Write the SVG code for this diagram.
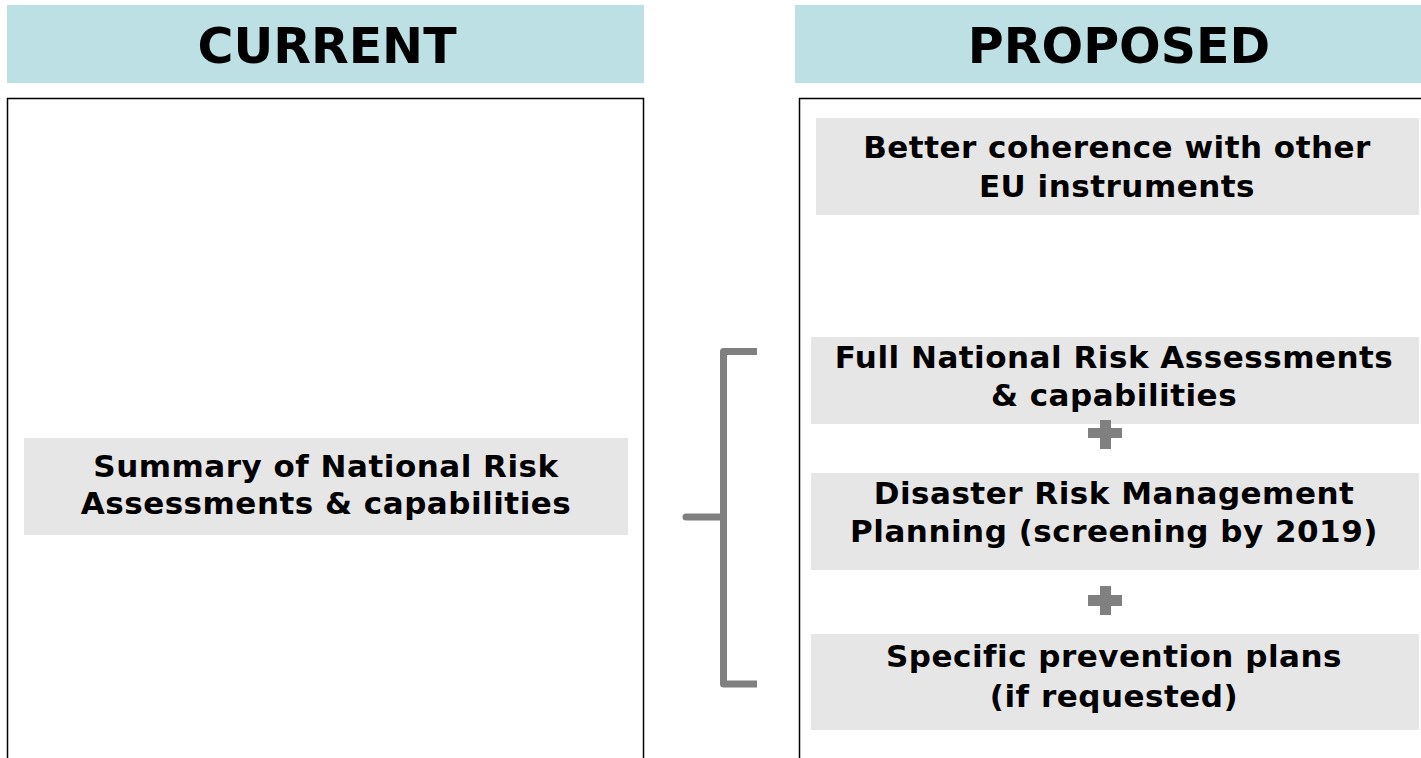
<svg xmlns="http://www.w3.org/2000/svg" width="1421" height="758" viewBox="0 0 1421 758">
<style>
.hdr{fill:#bce0e3}
.frame{fill:#fff;stroke:#000;stroke-width:1.5}
.box{fill:#e6e6e6}
.t{font-family:"DejaVu Sans",Verdana,sans-serif;font-weight:bold;font-size:31px;letter-spacing:0.5px;text-anchor:middle;fill:#000}
.h{font-family:"DejaVu Sans",Verdana,sans-serif;font-weight:bold;font-size:49px;text-anchor:middle;fill:#000}
.br{fill:none;stroke:#808080;stroke-width:7;stroke-linejoin:round}
.plus{fill:#808080}
</style>
<rect width="1421" height="758" fill="#fff"/>
<g id="current-header"><rect class="hdr" x="7" y="5" width="637" height="78"/><text class="h" x="327" y="63">CURRENT</text></g>
<g id="current-frame"><rect class="frame" x="7.5" y="98.5" width="636" height="670"/></g>
<g id="proposed-header"><rect class="hdr" x="795" y="5" width="626" height="78"/><text class="h" x="1119" y="63">PROPOSED</text></g>
<g id="proposed-frame"><rect class="frame" x="799.5" y="98.5" width="630" height="670"/></g>
<g id="summary"><rect class="box" x="24" y="438" width="604" height="97"/><text class="t" x="326" y="477">Summary of National Risk</text><text class="t" x="326" y="514">Assessments &amp; capabilities</text></g>
<g id="coherence"><rect class="box" x="816" y="118" width="603" height="97"/><text class="t" x="1117" y="158">Better coherence with other</text><text class="t" x="1117" y="197">EU instruments</text></g>
<g id="full-nra"><rect class="box" x="811" y="337" width="608" height="87"/><text class="t" x="1114" y="368">Full National Risk Assessments</text><text class="t" x="1114" y="406">&amp; capabilities</text></g>
<g id="drm"><rect class="box" x="811" y="473" width="608" height="97"/><text class="t" x="1114" y="504">Disaster Risk Management</text><text class="t" x="1114" y="542">Planning (screening by 2019)</text></g>
<g id="specific"><rect class="box" x="811" y="634" width="608" height="96"/><text class="t" x="1114" y="667">Specific prevention plans</text><text class="t" x="1114" y="707">(if requested)</text></g>
<g id="connectors">
<path class="br" d="M757,351.5 H723.5 V684 H757"/>
<path class="br" d="M686,517 H723.5" stroke-linecap="round"/>
<g class="plus"><rect x="1088" y="428" width="34" height="10"/><rect x="1100" y="420" width="11" height="29"/></g>
<g class="plus"><rect x="1088" y="595" width="34" height="11"/><rect x="1100" y="586" width="11" height="29"/></g>
</g>
</svg>
